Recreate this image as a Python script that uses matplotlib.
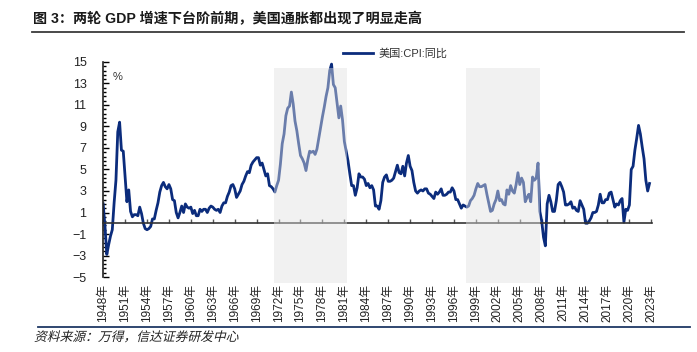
import numpy as np
import matplotlib
matplotlib.use("Agg")
import matplotlib.pyplot as plt
from matplotlib.ticker import FixedLocator
from matplotlib.lines import Line2D
from matplotlib.patches import Rectangle, PathPatch
from matplotlib.textpath import TextPath
from matplotlib.font_manager import FontProperties
from matplotlib.transforms import Affine2D

# -----------------------------------
TITLE = '图 3：两轮 GDP 增速下台阶前期，美国通胀都出现了明显走高'
SOURCE = '资料来源：万得，信达证券研发中心'
LEGEND_LABEL = '美国:CPI:同比'
UNIT = '%'

# quarterly CPI yoy (%), first point sits on the 1948 label
START = 1948.0
STEP = 0.25
cpi_yoy = [
    1.8, -0.3, -2.9, -2.0,
    -1.2, -0.6, 1.9, 4.0,
    8.5, 9.4, 6.8, 6.7,
    4.3, 2.0, 3.1, 1.1,
    0.6, 0.8, 0.8, 0.7,
    1.5, 0.9, 0.0, -0.5,
    -0.6, -0.5, -0.3, 0.4,
    0.4, 1.2, 1.9, 2.9,
    3.5, 3.8, 3.4, 3.2,
    3.6, 3.2, 2.2, 2.1,
    1.0, 0.5, 1.0, 1.6,
    1.0, 1.8, 1.5, 1.4,
    1.5, 0.9, 1.2, 0.7,
    0.7, 1.3, 1.1, 1.3,
    1.3, 1.0, 1.4, 1.6,
    1.5, 1.3, 1.2, 1.3,
    1.0, 1.6, 1.9, 1.9,
    2.5, 2.9, 3.5, 3.6,
    3.2, 2.4, 2.7, 3.0,
    3.6, 3.9, 4.4, 4.8,
    4.7, 5.4, 5.7, 5.9,
    6.1, 6.1, 5.4, 5.6,
    5.0, 4.4, 4.6, 3.5,
    3.4, 3.2, 2.9, 3.5,
    4.0, 5.5, 7.4, 8.3,
    10.0, 10.7, 10.9, 12.2,
    11.1, 9.5, 8.6, 7.4,
    6.3, 6.0, 5.6, 4.9,
    5.9, 6.7, 6.6, 6.7,
    6.4, 6.9, 7.9, 8.9,
    9.9, 10.8, 11.8, 12.6,
    14.2, 14.8, 12.9, 12.6,
    11.2, 9.8, 10.9, 9.6,
    7.6, 6.7, 5.8, 4.6,
    3.5, 3.5, 2.6, 3.3,
    4.6, 4.3, 4.3, 4.1,
    3.5, 3.7, 3.3, 3.5,
    3.1, 1.6, 1.6, 1.3,
    2.1, 3.8, 4.3, 4.5,
    3.9, 3.9, 4.0, 4.2,
    4.8, 5.4, 4.7, 4.6,
    5.3, 4.4, 5.6, 6.3,
    5.3, 4.9, 3.8, 3.0,
    2.8, 3.0, 3.1, 3.0,
    3.2, 3.2, 2.8, 2.7,
    2.5, 2.3, 2.9, 2.7,
    2.9, 3.2, 2.6, 2.6,
    2.7, 2.9, 2.9, 3.3,
    3.0, 2.2, 2.2, 1.8,
    1.4, 1.7, 1.6, 1.5,
    1.6, 2.1, 2.3, 2.6,
    3.2, 3.7, 3.4, 3.4,
    3.5, 3.6, 2.7, 1.9,
    1.1, 1.2, 1.8, 2.2,
    3.0, 2.1, 2.2, 1.8,
    1.7, 3.1, 2.7, 3.5,
    3.0, 2.8, 3.6, 4.7,
    3.6, 4.2, 3.8, 2.0,
    2.4, 2.7, 2.0, 4.3,
    4.0, 4.2, 5.6, 1.1,
    0.2, -1.3, -2.1, 1.8,
    2.6, 2.0, 1.1, 1.1,
    2.1, 3.6, 3.8, 3.4,
    2.9, 1.7, 1.7, 1.8,
    2.0, 1.4, 1.5, 1.2,
    1.1, 2.1, 1.7, 1.3,
    0.0, 0.0, 0.2, 0.5,
    1.0, 1.0, 1.1, 1.7,
    2.7, 1.9, 1.9, 2.2,
    2.2, 2.8, 2.9, 2.2,
    1.5, 1.8, 1.7, 2.1,
    2.3, 0.1, 1.3, 1.2,
    1.7, 5.0, 5.3, 6.8,
    7.9, 9.1, 8.3, 7.1,
    6.0, 4.0, 3.0, 3.7,
]

# shaded periods (chart years)
shade_start = [1971.4, 1997.7]
shade_end = [1981.4, 2007.7]

tick_years = list(range(1948, 2024, 3))
tick_labels = ['{}年'.format(y) for y in tick_years]
y_major = list(range(-5, 16, 2))
# -----------------------------------

plt.rcParams['font.family'] = ['Liberation Sans', 'Noto Sans CJK SC', 'DejaVu Sans']
NAVY = '#0B2C7C'

fig = plt.figure(figsize=(6.97, 3.52), dpi=100)
ax = fig.add_axes([0.148, 0.213, 0.787, 0.611])

x = START + STEP * np.arange(len(cpi_yoy))
ax.plot(x, cpi_yoy, color=NAVY, linewidth=2.0, zorder=2, label=LEGEND_LABEL)

# light grey blocks laid over the line
for s, e in zip(shade_start, shade_end):
    ax.add_patch(Rectangle((s, -0.03), e - s, 1.0, transform=ax.get_xaxis_transform(),
                           facecolor='#EEEEEE', alpha=0.42, edgecolor='none',
                           zorder=3, clip_on=False))
    ax.add_patch(Rectangle((s, -0.03), e - s, 1.0, transform=ax.get_xaxis_transform(),
                           facecolor='#F4F4F4', edgecolor='none',
                           zorder=1, clip_on=False))

ax.set_xlim(1948, 2023.05)
ax.set_ylim(-5, 15)

# y axis
ax.yaxis.set_major_locator(FixedLocator(y_major))
ax.yaxis.set_minor_locator(FixedLocator(np.arange(-5, 15.01, 0.4)))
ax.tick_params(axis='y', which='major', direction='in', length=4, width=1.0,
               labelsize=9, pad=12)
ax.tick_params(axis='y', which='minor', direction='in', length=2.5, width=1.0)
for lab in ax.get_yticklabels():
    lab.set_color('#222222')

# x axis line at zero with ticks pointing up, labels at the bottom
ax.spines['bottom'].set_position(('data', 0))
ax.spines['bottom'].set_color('#333333')
ax.spines['bottom'].set_linewidth(1.2)
ax.set_xticks(tick_years)
ax.tick_params(axis='x', which='major', direction='in', length=3, width=1.0,
               labelbottom=False, color='#555555')

sec = ax.secondary_xaxis('bottom')
sec.set_xticks(tick_years)
sec.set_xticklabels(tick_labels, rotation=90, fontsize=8.5, color='#222222')
sec.tick_params(length=0, pad=5)
sec.spines['bottom'].set_visible(False)

ax.spines['top'].set_visible(False)
ax.spines['right'].set_visible(False)
ax.spines['left'].set_linewidth(1.2)
ax.spines['left'].set_color('#222222')

ax.text(0.018, 0.955, UNIT, transform=ax.transAxes, fontsize=8, color='#333333',
        ha='left', va='top')

leg = ax.legend(loc='upper left', bbox_to_anchor=(0.43, 1.085), frameon=False,
                fontsize=8, handlelength=2.7, handletextpad=0.5, borderaxespad=0)
for t in leg.get_texts():
    t.set_color('#333333')

# title and source
fig.text(0.048, 0.935, TITLE, fontsize=10.2, fontweight='bold', color='#1A1A1A',
         ha='left', va='baseline')
fig.add_artist(Line2D([0.046, 0.981], [0.91, 0.91], transform=fig.transFigure,
                      color='#3A3A3A', linewidth=1.3))
fig.add_artist(Line2D([0.055, 0.99], [0.072, 0.072], transform=fig.transFigure,
                      color='#1F3864', linewidth=1.3))

# source line, slanted by hand since the CJK font has no italic face
src_path = TextPath((0, 0), SOURCE, size=9.2, prop=FontProperties(family='Noto Sans CJK SC'))
src_trans = (Affine2D().skew_deg(14, 0).scale(1 / 72.) + fig.dpi_scale_trans
             + Affine2D().translate(34, 11))
fig.add_artist(PathPatch(src_path, transform=src_trans, facecolor='#222222',
                         edgecolor='none'))

fig.savefig('out.png', dpi=100)
